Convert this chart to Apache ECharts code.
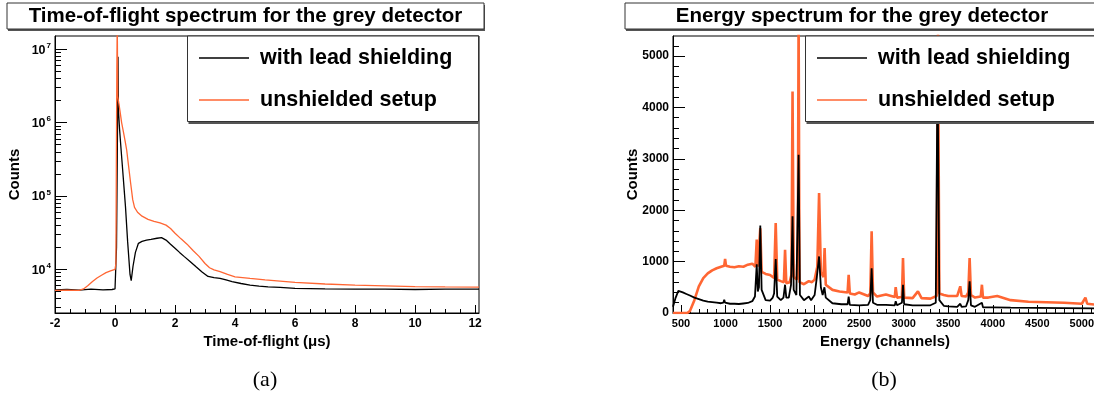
<!DOCTYPE html>
<html><head><meta charset="utf-8">
<script src="https://cdn.jsdelivr.net/npm/echarts@6/dist/echarts.min.js"></script>
<style>html,body{margin:0;padding:0;background:#fff}#c{width:1094px;height:394px}</style>
</head><body><div id="c"></div>
<script>
const seriesNames = ['with lead shielding', 'unshielded setup'];
const colors = ['#000000', '#ff6633'];

// (a) Time-of-flight spectrum (x in microseconds, counts)
const tofLeadX = [-2, -1.6, -1.2, -0.8, -0.4, -0.1, 0.0, 0.03, 0.05, 0.08, 0.1, 0.11, 0.12, 0.15, 0.2, 0.25, 0.3, 0.35, 0.42, 0.5, 0.54, 0.6, 0.68, 0.78, 0.9, 1.05, 1.2, 1.4, 1.55, 1.7, 1.85, 2.0, 2.15, 2.3, 2.5, 2.7, 2.9, 3.1, 3.3, 3.5, 3.7, 3.9, 4.2, 4.5, 4.8, 5.1, 5.5, 6.0, 6.5, 7, 8, 9, 10, 11, 12.13];
const tofLeadCounts = [5250, 5300, 5200, 5350, 5250, 5300, 5400, 5600, 20000, 600000, 7900000, 2000000, 1350000, 830000, 440000, 240000, 130000, 70000, 24000, 8500, 7000, 11000, 17000, 22600, 24000, 25000, 25500, 26500, 27000, 25000, 22000, 19400, 17000, 15000, 12800, 10800, 9200, 8000, 7700, 7500, 7150, 6800, 6400, 6100, 5900, 5750, 5650, 5500, 5450, 5400, 5350, 5350, 5300, 5350, 5350];
const tofOpenX = [-2, -1.6, -1.2, -1.05, -0.9, -0.75, -0.6, -0.45, -0.3, -0.15, 0.0, 0.03, 0.045, 0.06, 0.075, 0.09, 0.13, 0.17, 0.22, 0.28, 0.34, 0.39, 0.45, 0.52, 0.59, 0.65, 0.75, 0.9, 1.1, 1.3, 1.5, 1.7, 1.85, 2.0, 2.2, 2.4, 2.6, 2.8, 3.0, 3.15, 3.3, 3.5, 3.75, 4.0, 4.5, 5.0, 5.5, 6.0, 7.0, 8.0, 9.0, 10.0, 11.0, 12.13];
const tofOpenCounts = [5150, 5200, 5150, 5400, 6000, 6800, 7600, 8300, 9000, 9500, 10000, 12000, 300000, 5000000, 25000000, 2300000, 1800000, 1400000, 1000000, 750000, 550000, 420000, 260000, 150000, 89000, 70000, 60000, 53000, 48000, 45000, 43000, 40000, 36000, 31000, 26000, 22000, 18000, 15000, 12000, 10500, 9800, 9300, 8500, 7900, 7500, 7150, 6900, 6650, 6300, 6100, 5950, 5800, 5750, 5700];

// (b) Energy spectrum (channel, counts)
const enLeadCh = [410, 440, 470, 490, 520, 560, 600, 650, 700, 750, 800, 850, 900, 950, 975, 985, 995, 1050, 1100, 1150, 1200, 1250, 1300, 1330, 1350, 1362, 1375, 1390, 1405, 1450, 1500, 1530, 1545, 1563, 1580, 1620, 1650, 1668, 1682, 1710, 1735, 1752, 1765, 1795, 1820, 1835, 1880, 1935, 1960, 2000, 2025, 2050, 2070, 2090, 2110, 2125, 2200, 2300, 2370, 2382, 2395, 2500, 2600, 2625, 2640, 2655, 2700, 2800, 2900, 2910, 2925, 2980, 2992, 3005, 3100, 3200, 3300, 3360, 3380, 3400, 3450, 3500, 3600, 3635, 3650, 3700, 3725, 3740, 3755, 3800, 3878, 3890, 4000, 4200, 4500, 4800, 5170];
const enLeadCounts = [120, 300, 430, 450, 400, 370, 340, 300, 270, 240, 220, 210, 200, 190, 200, 260, 200, 180, 180, 175, 185, 195, 230, 320, 950, 420, 500, 1700, 450, 250, 240, 300, 380, 1050, 320, 250, 300, 550, 300, 300, 550, 1880, 450, 350, 3080, 350, 250, 320, 250, 350, 700, 1100, 500, 350, 500, 300, 190, 170, 170, 320, 160, 150, 160, 250, 870, 200, 160, 160, 150, 230, 150, 200, 550, 170, 150, 150, 150, 200, 4800, 250, 140, 130, 120, 180, 120, 130, 250, 615, 150, 120, 200, 110, 110, 105, 100, 95, 90];
const enOpenCh = [410, 570, 600, 650, 700, 750, 800, 850, 900, 950, 985, 995, 1005, 1050, 1100, 1150, 1200, 1250, 1300, 1335, 1350, 1362, 1375, 1390, 1405, 1450, 1500, 1545, 1563, 1580, 1620, 1655, 1668, 1682, 1720, 1740, 1752, 1765, 1800, 1812, 1820, 1830, 1880, 1935, 1970, 2000, 2030, 2050, 2070, 2100, 2112, 2125, 2200, 2280, 2370, 2382, 2395, 2450, 2500, 2600, 2625, 2640, 2655, 2700, 2800, 2900, 2910, 2925, 2980, 2992, 3005, 3100, 3160, 3200, 3300, 3370, 3385, 3400, 3450, 3500, 3600, 3635, 3650, 3700, 3725, 3740, 3755, 3800, 3865, 3878, 3890, 3950, 4050, 4200, 4400, 4600, 4800, 5000, 5040, 5060, 5170];
const enOpenCounts = [0, 0, 40, 250, 520, 680, 770, 830, 870, 900, 920, 1050, 920, 900, 890, 910, 900, 940, 960, 900, 1430, 900, 880, 1650, 800, 760, 740, 680, 1750, 650, 620, 600, 1230, 580, 600, 750, 4310, 700, 650, 1500, 5800, 600, 560, 620, 600, 650, 900, 2335, 800, 700, 1265, 550, 450, 420, 400, 745, 380, 360, 400, 330, 380, 1590, 400, 320, 360, 310, 505, 300, 310, 1070, 300, 290, 420, 290, 280, 330, 5500, 380, 350, 330, 330, 520, 330, 320, 400, 1070, 350, 300, 320, 550, 300, 300, 330, 250, 220, 210, 200, 180, 300, 180, 160];

// Tick labels
const tofTicks = [-2, 0, 2, 4, 6, 8, 10, 12];
const tofMinorTicks = [-2, -1.5, -1, -0.5, 0, 0.5, 1, 1.5, 2, 2.5, 3, 3.5, 4, 4.5, 5, 5.5, 6, 6.5, 7, 7.5, 8, 8.5, 9, 9.5, 10, 10.5, 11, 11.5, 12];
const countDecades = [4, 5, 6, 7];
const energyTicks = [500, 1000, 1500, 2000, 2500, 3000, 3500, 4000, 4500, 5000];
const energyCountTicks = [0, 1000, 2000, 3000, 4000, 5000];

const FONT = '"Liberation Sans", Arial, Helvetica, sans-serif';
const LOG_MIN = 3.404, LOG_MAX = 7.181;

const logMinor = [];
for (let n = 3; n <= 7; n++) for (let k = 2; k <= 9; k++) {
  const v = Math.log10(k * Math.pow(10, n));
  if (v > LOG_MIN && v < LOG_MAX) logMinor.push(v);
}
const energyMinor = [];
for (let v = 500; v <= 5100; v += 100) energyMinor.push(v);
const countMinor = [];
for (let v = 0; v <= 5200; v += 200) countMinor.push(v);

const zip = (xs, ys, f) => xs.map((x, i) => [x, f ? f(ys[i]) : ys[i]]);
const plain = v => String(v);

const lbl = (size) => ({ color: '#000', fontFamily: FONT, fontWeight: 'bold', fontSize: size, formatter: plain });
const nameStyle = { color: '#000', fontFamily: FONT, fontWeight: 'bold', fontSize: 15 };

function majorX(grid, min, max, ticks, name, fsize) {
  return {
    gridIndex: grid, type: 'value', min: min, max: max, position: 'bottom',
    axisLine: { show: true, onZero: false, lineStyle: { color: '#000', width: 1 } },
    axisTick: { show: true, inside: true, length: 8, customValues: ticks, lineStyle: { color: '#000' } },
    axisLabel: Object.assign({ customValues: ticks, margin: 5 }, lbl(fsize)),
    splitLine: { show: false },
    name: name, nameLocation: 'middle', nameGap: 21, nameTextStyle: nameStyle, nameMoveOverlap: false
  };
}
function minorX(grid, min, max, ticks) {
  return {
    gridIndex: grid, type: 'value', min: min, max: max, position: 'bottom',
    axisLine: { show: false, onZero: false }, axisLabel: { show: false }, splitLine: { show: false },
    axisTick: { show: true, inside: true, length: 4, customValues: ticks, lineStyle: { color: '#000' } }
  };
}
function minorY(grid, min, max, ticks) {
  return {
    gridIndex: grid, type: 'value', min: min, max: max, position: 'left',
    axisLine: { show: false, onZero: false }, axisLabel: { show: false }, splitLine: { show: false },
    axisTick: { show: true, inside: true, length: 6, customValues: ticks, lineStyle: { color: '#000' } }
  };
}

const chart = echarts.init(document.getElementById('c'), null, { renderer: 'canvas' });

const boxStroke = '#333';
const option = {
  animation: false,
  backgroundColor: '#fff',
  grid: [
    { left: 55, top: 36, width: 424, height: 277, show: true, borderColor: '#000', borderWidth: 1, backgroundColor: 'transparent', outerBoundsMode: 'none' },
    { left: 673, top: 36, width: 424, height: 277, show: true, borderColor: '#000', borderWidth: 1, backgroundColor: 'transparent', outerBoundsMode: 'none' }
  ],
  xAxis: [
    majorX(0, -2, 12.13, tofTicks, 'Time-of-flight (\u03bcs)', 12),
    minorX(0, -2, 12.13, tofMinorTicks),
    majorX(1, 410, 5170, energyTicks, 'Energy (channels)', 11),
    minorX(1, 410, 5170, energyMinor)
  ],
  yAxis: [
    {
      gridIndex: 0, type: 'value', min: LOG_MIN, max: LOG_MAX, position: 'left',
      axisLine: { show: true, onZero: false, lineStyle: { color: '#000' } },
      axisTick: { show: true, inside: true, length: 12, customValues: countDecades, lineStyle: { color: '#000' } },
      axisLabel: {
        customValues: countDecades, margin: 4,
        formatter: v => '{b|10}{s|' + Math.round(v) + '}',
        rich: {
          b: { fontFamily: FONT, fontWeight: 'bold', fontSize: 12.5, color: '#000', verticalAlign: 'bottom' },
          s: { fontFamily: FONT, fontWeight: 'bold', fontSize: 8, color: '#000', verticalAlign: 'top', padding: [0, 0, 7, 1] }
        }
      },
      splitLine: { show: false },
      name: 'Counts', nameLocation: 'middle', nameRotate: 90, nameGap: 33, nameTextStyle: nameStyle, nameMoveOverlap: false
    },
    minorY(0, LOG_MIN, LOG_MAX, logMinor),
    {
      gridIndex: 1, type: 'value', min: 0, max: 5390, position: 'left',
      axisLine: { show: true, onZero: false, lineStyle: { color: '#000' } },
      axisTick: { show: true, inside: true, length: 12, customValues: energyCountTicks, lineStyle: { color: '#000' } },
      axisLabel: Object.assign({ customValues: energyCountTicks, margin: 4 }, lbl(12)),
      splitLine: { show: false },
      name: 'Counts', nameLocation: 'middle', nameRotate: 90, nameGap: 33, nameTextStyle: nameStyle, nameMoveOverlap: false
    },
    minorY(1, 0, 5390, countMinor)
  ],
  legend: [0, 1].map(i => ({
    data: seriesNames,
    orient: 'vertical',
    left: i === 0 ? 187 : 805, top: 36,
    padding: [11, 0, 11, 12],
    icon: 'rect',
    itemWidth: 50, itemHeight: 1.3, itemGap: 20,
    selectedMode: false,
    z: 30,
    textStyle: { color: '#000', fontFamily: FONT, fontWeight: 'bold', fontSize: 21.5, padding: [0, 0, 0, 6] }
  })),
  graphic: [
    // title boxes
    { type: 'rect', z: 9, shape: { x: 8, y: 5, width: 477, height: 26 }, style: { fill: '#555' } },
    { type: 'rect', z: 10, shape: { x: 7, y: 3, width: 477, height: 26 }, style: { fill: '#fff', stroke: boxStroke, lineWidth: 1 } },
    { type: 'text', z: 11, x: 245.5, y: 16.5, style: { text: 'Time-of-flight spectrum for the grey detector', font: 'bold 20.5px ' + FONT, fill: '#000', align: 'center', verticalAlign: 'middle' } },
    { type: 'rect', z: 9, shape: { x: 626, y: 5, width: 480, height: 26 }, style: { fill: '#555' } },
    { type: 'rect', z: 10, shape: { x: 625, y: 3, width: 480, height: 26 }, style: { fill: '#fff', stroke: boxStroke, lineWidth: 1 } },
    { type: 'text', z: 11, x: 862, y: 16.5, style: { text: 'Energy spectrum for the grey detector', font: 'bold 20.5px ' + FONT, fill: '#000', align: 'center', verticalAlign: 'middle' } },
    // legend boxes
    { type: 'rect', z: 9, shape: { x: 188.5, y: 37, width: 290, height: 87 }, style: { fill: '#555' } },
    { type: 'rect', z: 10, shape: { x: 187.5, y: 36, width: 291, height: 85.5 }, style: { fill: '#fff', stroke: boxStroke, lineWidth: 1 } },
    { type: 'rect', z: 9, shape: { x: 806.5, y: 37, width: 300, height: 87 }, style: { fill: '#555' } },
    { type: 'rect', z: 10, shape: { x: 805.5, y: 36, width: 300, height: 85.5 }, style: { fill: '#fff', stroke: boxStroke, lineWidth: 1 } },
    // captions
    { type: 'text', x: 265, y: 380, style: { text: '(a)', font: '22px "Liberation Serif", "DejaVu Serif", serif', fill: '#000', align: 'center', verticalAlign: 'middle' } },
    { type: 'text', x: 884, y: 380, style: { text: '(b)', font: '22px "Liberation Serif", "DejaVu Serif", serif', fill: '#000', align: 'center', verticalAlign: 'middle' } }
  ],
  series: [
    { name: seriesNames[0], type: 'line', xAxisIndex: 0, yAxisIndex: 0, data: zip(tofLeadX, tofLeadCounts, Math.log10), symbol: 'none', lineStyle: { color: colors[0], width: 1.3 }, itemStyle: { color: colors[0] }, z: 2 },
    { name: seriesNames[1], type: 'line', xAxisIndex: 0, yAxisIndex: 0, data: zip(tofOpenX, tofOpenCounts, Math.log10), symbol: 'none', lineStyle: { color: colors[1], width: 1.3 }, itemStyle: { color: colors[1] }, z: 3 },
    { name: seriesNames[0], type: 'line', xAxisIndex: 2, yAxisIndex: 2, data: zip(enLeadCh, enLeadCounts), symbol: 'none', lineStyle: { color: colors[0], width: 1.8 }, itemStyle: { color: colors[0] }, z: 3 },
    { name: seriesNames[1], type: 'line', xAxisIndex: 2, yAxisIndex: 2, data: zip(enOpenCh, enOpenCounts), symbol: 'none', lineStyle: { color: colors[1], width: 2.6 }, itemStyle: { color: colors[1] }, z: 2 }
  ]
};
chart.setOption(option);
</script>
</body></html>
